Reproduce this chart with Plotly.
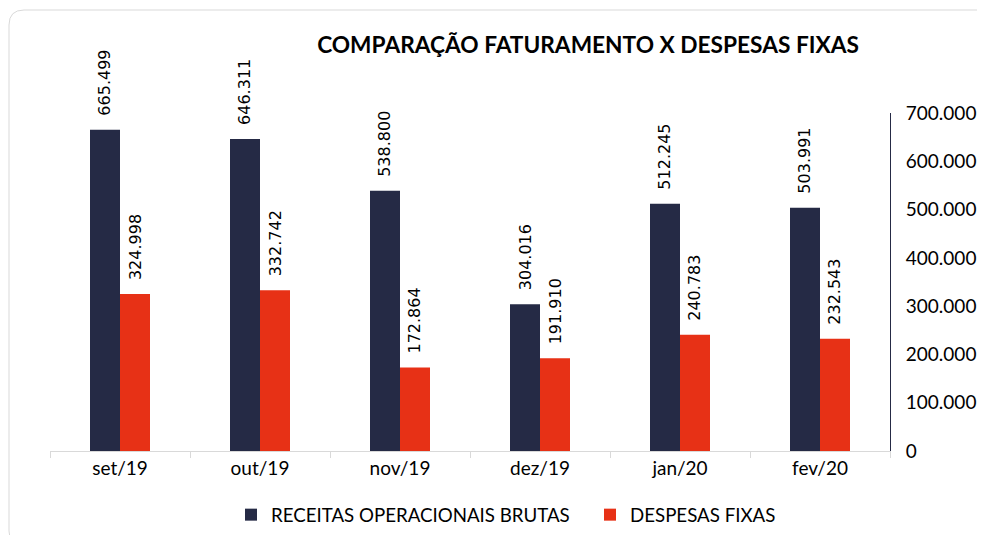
import plotly.graph_objects as go

categories = ["set/19", "out/19", "nov/19", "dez/19", "jan/20", "fev/20"]
receitas = [665499, 646311, 538800, 304016, 512245, 503991]
despesas = [324998, 332742, 172864, 191910, 240783, 232543]
series_names = ["RECEITAS OPERACIONAIS BRUTAS", "DESPESAS FIXAS"]
y_ticks = [0, 100000, 200000, 300000, 400000, 500000, 600000, 700000]
title_text = "COMPARAÇÃO FATURAMENTO X DESPESAS FIXAS"

NAVY = "#252a45"
RED = "#e73116"

OFF = 8  # page body margin
W, H = 985 - OFF, 535 - OFF
ML, MR, MT = 50 - OFF, 985 - 890, 113 - OFF
MB = H - (451 - OFF)
PW, PH = W - ML - MR, H - MT - MB


def px_x(px):  # reference window px -> paper
    return (px - OFF - ML) / PW


def px_y(py):
    return (H - MB - (py - OFF)) / PH


fig = go.Figure()
fig.add_trace(go.Bar(x=categories, y=receitas, name=series_names[0],
                     legendwidth=314,
                     marker=dict(color=NAVY, line=dict(width=0))))
fig.add_trace(go.Bar(x=categories, y=despesas, name=series_names[1],
                     marker=dict(color=RED, line=dict(width=0))))


def fmt(v):
    return f"{v:,}".replace(",", ".")


annotations = []
for series, shift in ((receitas, -15), (despesas, 15)):
    for c, v in zip(categories, series):
        annotations.append(dict(
            x=c, y=v, xref="x", yref="y", text=fmt(v), showarrow=False,
            textangle=-90, xanchor="center", yanchor="bottom",
            xshift=shift, yshift=12,
            font=dict(family="DejaVu Sans", size=16, color="#000000")))

# rounded frame
L, R, T, B, r = 9, 1005, 10, 546, 15
path = (f"M {px_x(L)},{px_y(T + r)} Q {px_x(L)},{px_y(T)} {px_x(L + r)},{px_y(T)} "
        f"L {px_x(R - r)},{px_y(T)} Q {px_x(R)},{px_y(T)} {px_x(R)},{px_y(T + r)} "
        f"L {px_x(R)},{px_y(B - r)} Q {px_x(R)},{px_y(B)} {px_x(R - r)},{px_y(B)} "
        f"L {px_x(L + r)},{px_y(B)} Q {px_x(L)},{px_y(B)} {px_x(L)},{px_y(B - r)} Z")

fig.update_layout(
    width=W, height=H,
    margin=dict(l=ML, r=MR, t=MT, b=MB, autoexpand=False),
    paper_bgcolor="white", plot_bgcolor="white",
    separators=",.",
    barmode="group", bargap=1 - 60 / 140, bargroupgap=0,
    title=dict(text=f"<b>{title_text}</b>", x=(588 - OFF) / W, xanchor="center",
               y=1 - (45 - OFF) / H, yanchor="middle", yref="container",
               font=dict(family="Lato", size=22.7, color="#000000")),
    font=dict(family="Lato", color="#000000"),
    showlegend=True,
    legend=dict(orientation="h", x=px_x(231), xanchor="left",
                y=px_y(515), yanchor="middle",
                font=dict(family="Lato", size=18.7, color="#000000"),
                bgcolor="rgba(0,0,0,0)"),
    annotations=annotations,
    shapes=[dict(type="path", path=path, xref="paper", yref="paper",
                 line=dict(color="#d9d9d9", width=1), fillcolor="rgba(0,0,0,0)",
                 layer="below")],
)

fig.update_xaxes(showline=True, linecolor="#d9d9d9", linewidth=1,
                 ticks="outside", tickson="boundaries", ticklen=6,
                 tickcolor="#d9d9d9", showgrid=False,
                 tickfont=dict(family="Lato", size=19, color="#000000"))
fig.update_yaxes(side="right", range=[0, 700000], tickvals=y_ticks,
                 tickformat=",d", showline=True, linecolor=NAVY, linewidth=1,
                 ticks="", showgrid=False, zeroline=False, ticklabelstandoff=11,
                 tickfont=dict(family="Lato", size=19, color="#000000"))

fig.write_html("out.html")
